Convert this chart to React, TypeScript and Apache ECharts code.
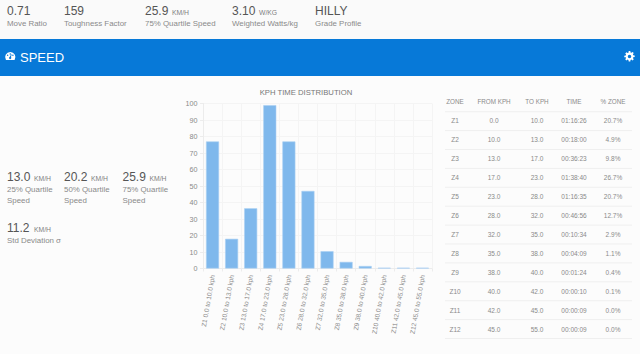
import React, { useEffect, useRef } from "react";
import * as echarts from "echarts";

const categories = ["Z1 0.0 to 10.0 kph","Z2 10.0 to 13.0 kph","Z3 13.0 to 17.0 kph","Z4 17.0 to 23.0 kph","Z5 23.0 to 28.0 kph","Z6 28.0 to 32.0 kph","Z7 32.0 to 35.0 kph","Z8 35.0 to 38.0 kph","Z9 38.0 to 40.0 kph","Z10 40.0 to 42.0 kph","Z11 42.0 to 45.0 kph","Z12 45.0 to 55.0 kph"];
const barValues = [77, 18, 36.5, 99, 77, 47, 10.5, 4, 1.5, 0.4, 0.4, 0.4];
const tableHeader = ["ZONE", "FROM KPH", "TO KPH", "TIME", "% ZONE"];
const tableRows = [
  ["Z1","0.0","10.0","01:16:26","20.7%"],
  ["Z2","10.0","13.0","00:18:00","4.9%"],
  ["Z3","13.0","17.0","00:36:23","9.8%"],
  ["Z4","17.0","23.0","01:38:40","26.7%"],
  ["Z5","23.0","28.0","01:16:35","20.7%"],
  ["Z6","28.0","32.0","00:46:56","12.7%"],
  ["Z7","32.0","35.0","00:10:34","2.9%"],
  ["Z8","35.0","38.0","00:04:09","1.1%"],
  ["Z9","38.0","40.0","00:01:24","0.4%"],
  ["Z10","40.0","42.0","00:00:10","0.1%"],
  ["Z11","42.0","45.0","00:00:09","0.0%"],
  ["Z12","45.0","55.0","00:00:09","0.0%"],
];
const topStats = [
  { x: 7, value: "0.71", unit: "", label: "Move Ratio" },
  { x: 64, value: "159", unit: "", label: "Toughness Factor" },
  { x: 145, value: "25.9", unit: "KM/H", label: "75% Quartile Speed" },
  { x: 232, value: "3.10", unit: "W/KG", label: "Weighted Watts/kg" },
  { x: 315, value: "HILLY", unit: "", label: "Grade Profile" },
];
const sideStats = [
  { x: 7, y: 177, value: "13.0", unit: "KM/H", label: ["25% Quartile", "Speed"] },
  { x: 64, y: 177, value: "20.2", unit: "KM/H", label: ["50% Quartile", "Speed"] },
  { x: 122.5, y: 177, value: "25.9", unit: "KM/H", label: ["75% Quartile", "Speed"] },
  { x: 7, y: 228, value: "11.2", unit: "KM/H", label: ["Std Deviation σ"] },
];
const tableColumns = [455, 494, 537, 574, 613];

const FONT = '"Liberation Sans", Arial, sans-serif';
const GEAR = "M9.4 0h3.2l.5 2.9 1.7.7 2.4-1.7 2.3 2.3-1.7 2.4.7 1.7 2.9.5v3.2l-2.9.5-.7 1.7 1.7 2.4-2.3 2.3-2.4-1.7-1.7.7-.5 2.9H9.4l-.5-2.9-1.7-.7-2.4 1.7-2.3-2.3 1.7-2.4-.7-1.7L.6 12.6V9.4l2.9-.5.7-1.7-1.7-2.4 2.3-2.3 2.4 1.7 1.7-.7zM11 7.5a3.5 3.5 0 1 0 0 7 3.5 3.5 0 0 0 0-7z";
const GAUGE = "M11 3A11 11 0 0 0 2 20h18A11 11 0 0 0 11 3zM11 9a1.6 1.6 0 1 1 0-3.2 1.6 1.6 0 0 1 0 3.2zM5.5 11.5a1.6 1.6 0 1 1 0-3.2 1.6 1.6 0 0 1 0 3.2zM16.5 11.5a1.6 1.6 0 1 1 0-3.2 1.6 1.6 0 0 1 0 3.2zM11 18a2.5 2.5 0 0 1-1-4.8L13 8l1 .5-1.6 5.2A2.5 2.5 0 0 1 11 18z";

export default function App() {
  const ref = useRef<HTMLDivElement>(null);
  useEffect(() => {
    document.body.style.margin = "0";
    document.body.style.background = "#fafafa";
    echarts.graphic.registerShape("gearIcon", echarts.graphic.extendPath(GEAR, {}) as any);
    echarts.graphic.registerShape("gaugeIcon", echarts.graphic.extendPath(GAUGE, {}) as any);
    const chart = echarts.init(ref.current!, undefined, { renderer: "svg" });

    const txt = (x: number, y: number, text: string, size: number, fill: string, align = "left") => ({
      type: "text", x, y, silent: true,
      style: { text, fontSize: size, fontFamily: FONT, fill, align, verticalAlign: "middle" },
    });
    const graphics: any[] = [
      { type: "rect", x: 0, y: 39, z: -1, shape: { width: 640, height: 37 }, style: { fill: "#0779d8" } },
      { type: "rect", x: 0, y: 76, z: -1, shape: { width: 640, height: 278 }, style: { fill: "#fcfcfc" } },
      { type: "gaugeIcon", x: 5, y: 50.5, scaleX: 0.48, scaleY: 0.48, style: { fill: "#ffffff" } },
      txt(20, 57.5, "SPEED", 13, "#ffffff"),
      { type: "gearIcon", x: 624, y: 51, scaleX: 0.5, scaleY: 0.5, style: { fill: "#ffffff" } },
    ];
    const stat = (s: any, y: number, labelLines: string[]) => {
      const vWidth = s.value === "HILLY" ? 32 : s.value.length === 3 ? 20 : 23.5;
      graphics.push(txt(s.x, y, s.value, 12, "#555555"));
      if (s.unit) graphics.push(txt(s.x + vWidth + 3.5, y + 1, s.unit, 6.8, "#808080"));
      labelLines.forEach((l, i) => graphics.push(txt(s.x, y + 12.5 + i * 11.3, l, 7.9, "#8a8a8a")));
    };
    topStats.forEach((s) => stat(s, 11, [s.label]));
    sideStats.forEach((s) => stat(s, s.y, s.label));

    tableHeader.forEach((h, c) => graphics.push(txt(tableColumns[c], 101.5, h, 6.3, "#8a8a8a", "center")));
    for (let i = 0; i <= 12; i++) {
      const y = 111.7 + i * 18.9;
      graphics.push({
        type: "line", silent: true,
        shape: { x1: 445, y1: y, x2: 632, y2: y },
        style: { stroke: "#efefef", lineWidth: 1 },
      });
    }
    tableRows.forEach((row, r) =>
      row.forEach((cell, c) => graphics.push(txt(tableColumns[c], 120.7 + r * 18.96, cell, 6.5, "#8a8a8a", "center")))
    );

    chart.setOption({
      animation: false,
      backgroundColor: "transparent",
      title: {
        text: "KPH TIME DISTRIBUTION", left: 306, top: 88, padding: 0, textAlign: "center",
        textStyle: { fontFamily: FONT, fontSize: 7.7, fontWeight: "normal", color: "#777777" },
      },
      grid: { left: 203, right: 208, top: 103.5, height: 165 },
      xAxis: {
        type: "category", data: categories,
        axisLine: { show: true, lineStyle: { color: "#ececec" } },
        axisTick: { show: true, length: 3, alignWithLabel: false, lineStyle: { color: "#ececec" } },
        splitLine: { show: true, lineStyle: { color: "#f4f4f4" } },
        axisLabel: { interval: 0, rotate: 80, fontSize: 6.5, color: "#8a8a8a", fontFamily: FONT, margin: 6.5 },
      },
      yAxis: {
        type: "value", min: 0, max: 100, interval: 10,
        axisLine: { show: true, lineStyle: { color: "#ececec" } },
        axisTick: { show: true, length: 3, lineStyle: { color: "#ececec" } },
        splitLine: { show: true, lineStyle: { color: "#f4f4f4" } },
        axisLabel: { fontSize: 7.2, color: "#8a8a8a", fontFamily: FONT, margin: 5.5 },
      },
      series: [{
        type: "bar", data: barValues, barWidth: 13,
        itemStyle: { color: "#7fb8ec", borderColor: "#a9d0f3", borderWidth: 0.6 },
      }],
      graphic: { elements: graphics },
    });
    return () => chart.dispose();
  }, []);
  return <div ref={ref} style={{ width: 640, height: 354 }} />;
}
